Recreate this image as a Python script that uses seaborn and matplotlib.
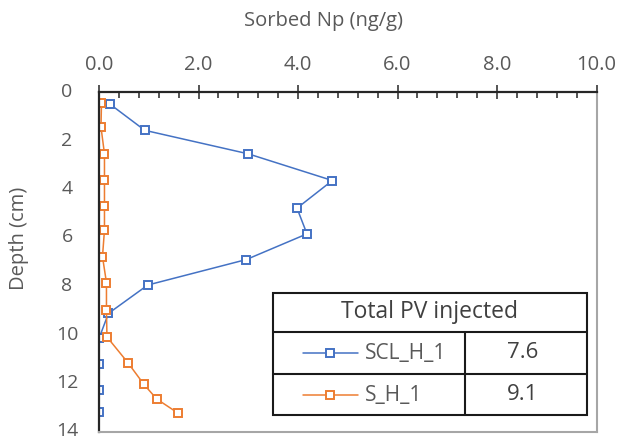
import matplotlib
matplotlib.use("Agg")
import matplotlib.pyplot as plt
from matplotlib.lines import Line2D
from matplotlib.patches import Rectangle
from matplotlib.ticker import MultipleLocator
import numpy as np
import pandas as pd
import seaborn as sns

# Sorbed Np profiles (ng/g) versus depth (cm)
scl_depth = [0.5, 1.58, 2.55, 3.65, 4.79, 5.85, 6.91, 7.96, 9.13, 10.16, 11.2, 12.3, 13.2]
scl_np = [0.22, 0.92, 3.0, 4.69, 3.98, 4.18, 2.96, 0.98, 0.19, 0.0, 0.0, 0.0, 0.0]
s_depth = [0.45, 1.45, 2.55, 3.62, 4.69, 5.69, 6.79, 7.86, 8.99, 10.1, 11.16, 12.05, 12.66, 13.23]
s_np = [0.05, 0.04, 0.11, 0.11, 0.11, 0.11, 0.07, 0.15, 0.15, 0.16, 0.58, 0.9, 1.16, 1.58]

series_names = ["SCL_H_1", "S_H_1"]
series_colors = ["#4472C4", "#ED7D31"]
pv_injected = ["7.6", "9.1"]
table_title = "Total PV injected"

x_ticks = [0, 2, 4, 6, 8, 10]
x_tick_labels = ["0.0", "2.0", "4.0", "6.0", "8.0", "10.0"]
y_ticks = [0, 2, 4, 6, 8, 10, 12, 14]

df = pd.concat([
    pd.DataFrame({"depth": scl_depth, "np": scl_np, "series": series_names[0]}),
    pd.DataFrame({"depth": s_depth, "np": s_np, "series": series_names[1]}),
], ignore_index=True)

sns.set_style("white")
plt.rcParams["font.family"] = ["Open Sans", "DejaVu Sans"]

W, H = 619, 441
fig = plt.figure(figsize=(W / 100, H / 100), dpi=100)


def fx(x):
    return x / W


def fy(y):
    return 1 - y / H


ax = fig.add_axes([fx(99), fy(431.5), fx(596.5) - fx(99), fy(92) - fy(431.5)])

for name, color in zip(series_names, series_colors):
    sub = df[df["series"] == name]
    sns.lineplot(data=sub, x="np", y="depth", sort=False, estimator=None,
                 color=color, lw=1.1, marker="s", markersize=5.5,
                 mfc="white", mec=color, mew=1.4, ax=ax, legend=False)

ax.set_xlim(0, 10)
ax.set_ylim(14, 0)
ax.set_xlabel("")
ax.set_ylabel("")

ax.xaxis.tick_top()
ax.set_xticks(x_ticks)
ax.set_xticklabels(x_tick_labels)
ax.xaxis.set_minor_locator(MultipleLocator(0.4))
ax.set_yticks(y_ticks)
ax.yaxis.set_minor_locator(MultipleLocator(1))

tick_col = "#595959"
ax.tick_params(axis="x", which="major", direction="inout", length=10, width=1.1,
               color="#262626", labelsize=14.5, labelcolor=tick_col, pad=7,
               top=True, bottom=False)
ax.tick_params(axis="x", which="minor", direction="in", length=4, width=1.1,
               color="#262626", top=True, bottom=False)
ax.tick_params(axis="y", which="major", direction="inout", length=10, width=1.1,
               color="#262626", labelsize=14, labelcolor=tick_col, pad=18)
ax.tick_params(axis="y", which="minor", direction="in", length=4, width=1.1,
               color="#262626")
for lab in ax.get_yticklabels():
    lab.set_horizontalalignment("center")
    lab.set_verticalalignment("center")

for side in ["left", "top"]:
    ax.spines[side].set_color("#262626")
    ax.spines[side].set_linewidth(1.6)
for side in ["right", "bottom"]:
    ax.spines[side].set_color("#A6A6A6")
    ax.spines[side].set_linewidth(1.5)

# axis titles
fig.text(fx(324), fy(21), "Sorbed Np (ng/g)", ha="center", va="center",
         fontsize=14.5, color=tick_col)
fig.text(fx(19), fy(238), "Depth (cm)", ha="center", va="center",
         rotation=90, fontsize=14.5, color=tick_col)

# legend table
x0, x1, xc = 272.5, 587, 465
y0, y1, y2, y3 = 293, 332, 373.5, 415
fig.add_artist(Rectangle((fx(x0), fy(y3)), fx(x1) - fx(x0), fy(y0) - fy(y3),
                         transform=fig.transFigure, facecolor="white",
                         edgecolor="#1a1a1a", lw=1.5))
for yy in (y1, y2):
    fig.add_artist(Line2D([fx(x0), fx(x1)], [fy(yy), fy(yy)],
                          transform=fig.transFigure, color="#1a1a1a", lw=1.5))
fig.add_artist(Line2D([fx(xc), fx(xc)], [fy(y1), fy(y3)],
                      transform=fig.transFigure, color="#1a1a1a", lw=1.5))
fig.text(fx((x0 + x1) / 2), fy(312), table_title, ha="center", va="center",
         fontsize=16.5, color="#404040")
row_y = [353, 395]
for name, color, pv, yy in zip(series_names, series_colors, pv_injected, row_y):
    fig.add_artist(Line2D([fx(303), fx(358)], [fy(yy), fy(yy)],
                          transform=fig.transFigure, color=color, lw=1.1))
    fig.add_artist(Line2D([fx(330)], [fy(yy)], transform=fig.transFigure,
                          color=color, marker="s", markersize=5.5,
                          mfc="white", mec=color, mew=1.4, lw=0))
    fig.text(fx(365), fy(yy), name, ha="left", va="center", fontsize=15,
             color=tick_col)
    fig.text(fx(523), fy(yy - 1), pv, ha="center", va="center", fontsize=16,
             color="#404040")

fig.savefig("out.png", dpi=100)
